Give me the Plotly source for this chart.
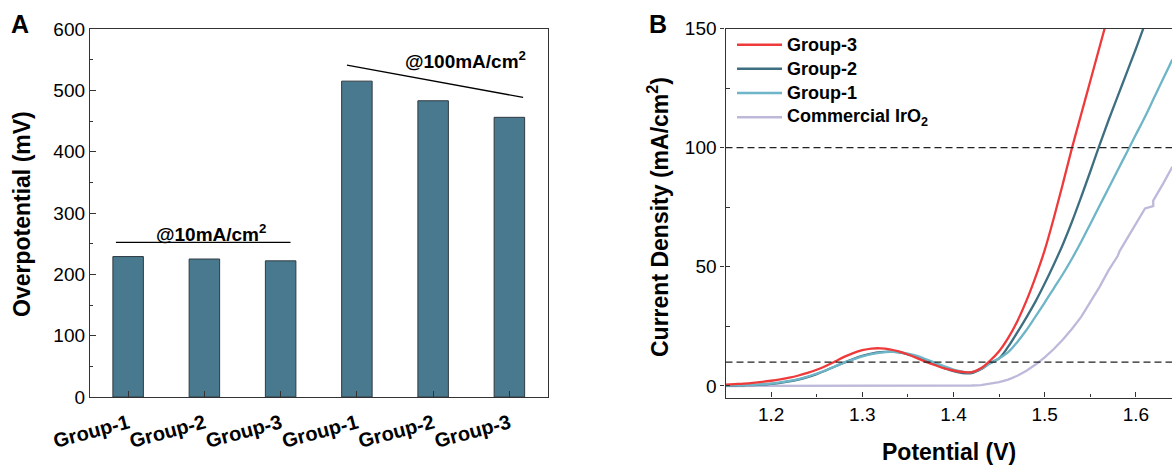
import plotly.graph_objects as go

# ---------------- Panel A data ----------------
bar_labels = ["Group-1", "Group-2", "Group-3", "Group-1", "Group-2", "Group-3"]
bar_pos = [0, 1, 2, 3, 4, 5]
overpotential = [229, 225, 222, 515, 483, 456]

# ---------------- Panel B data ----------------
potential = [1.15, 1.16, 1.17, 1.18, 1.19, 1.20, 1.21, 1.22, 1.23, 1.24,
             1.25, 1.26, 1.27, 1.28, 1.29, 1.30, 1.31, 1.32, 1.33, 1.34,
             1.35, 1.36, 1.37, 1.38, 1.39, 1.40, 1.41, 1.42, 1.43, 1.44,
             1.45, 1.46, 1.47, 1.48, 1.49, 1.50, 1.51, 1.52, 1.53, 1.54,
             1.55, 1.56, 1.57, 1.58, 1.59, 1.60, 1.61, 1.62, 1.63, 1.64]

group3 = [0.6, 0.8, 1.0, 1.3, 1.7, 2.2, 2.8, 3.5, 4.4, 5.5,
          6.8, 8.4, 10.3, 12.2, 13.8, 15.0, 15.7, 15.8, 15.4, 14.5,
          13.2, 11.7, 10.1, 8.7, 7.4, 6.5, 5.9, 5.8, 7.4, 10.6,
          14.6, 20.2, 27.2, 35.8, 45.8, 57.0, 70.5, 85.0, 100.0, 114.0,
          128.0, 142.0, 156.0]

group2 = [0.2, 0.2, 0.3, 0.4, 0.6, 0.9, 1.3, 1.9, 2.7, 3.7,
          5.0, 6.5, 8.2, 9.8, 11.3, 12.6, 13.6, 14.2, 14.4, 14.1,
          13.3, 12.1, 10.6, 9.0, 7.5, 6.2, 5.4, 5.4, 7.0, 9.6,
          11.6, 16.5, 22.5, 28.8, 35.5, 43.0, 51.0, 59.5, 69.0, 79.3,
          90.0, 101.0, 111.5, 121.5, 131.5, 141.5, 152.0]

group1 = [0.3, 0.3, 0.4, 0.5, 0.7, 1.0, 1.5, 2.1, 2.9, 3.9,
          5.2, 6.6, 8.2, 9.8, 11.2, 12.4, 13.4, 14.0, 14.3, 14.2,
          13.6, 12.6, 11.2, 9.7, 8.2, 6.9, 6.0, 5.8, 7.2, 9.4,
          11.5, 14.2, 18.5, 23.5, 29.2, 35.0, 41.0, 47.0, 53.5, 60.5,
          68.0, 75.5, 83.0, 90.5, 98.0, 105.5, 113.0, 121.0, 129.0, 137.0]

iro2_potential = [1.15, 1.20, 1.25, 1.30, 1.35, 1.40, 1.41, 1.42, 1.43, 1.44,
                  1.45, 1.46, 1.47, 1.48, 1.49, 1.50, 1.51, 1.52, 1.53, 1.54,
                  1.55, 1.56, 1.57, 1.58, 1.582, 1.59, 1.60, 1.61, 1.619, 1.619,
                  1.63, 1.64]
iro2 = [0.0, 0.0, 0.0, 0.0, 0.0, 0.05, 0.1, 0.2, 0.4, 0.9,
        1.6, 2.7, 4.3, 6.4, 9.0, 12.0, 15.5, 19.5, 24.0, 29.0,
        35.0, 41.5, 48.5, 54.5, 56.5, 61.5, 68.0, 74.5, 75.5, 77.8,
        85.0, 92.0]

ref_levels = [100, 10]

W, H = 1172, 466
FONT = "Arial, Liberation Sans, sans-serif"
AX = "#333333"


def px(x):
    return x / W


def py(y):
    return 1 - y / H


fig = go.Figure()

# ---- Panel A bars ----
fig.add_trace(go.Bar(
    x=bar_pos, y=overpotential, width=0.4,
    marker=dict(color="#48798e", line=dict(color="#2f3a40", width=1)),
    xaxis="x", yaxis="y", showlegend=False,
))

# ---- Panel B curves ----
series = [
    ("Commercial IrO<sub>2</sub>", iro2_potential, iro2, "#bdb9da", "linear"),
    ("Group-2", potential, group2, "#3e6f81", "spline"),
    ("Group-1", potential, group1, "#6db5c7", "spline"),
    ("Group-3", potential, group3, "#ee3a3a", "spline"),
]
for name, xs, ys, col, shape in series:
    fig.add_trace(go.Scatter(
        x=xs[:len(ys)], y=ys, mode="lines", name=name,
        line=dict(color=col, width=2.3, shape=shape),
        xaxis="x2", yaxis="y2", showlegend=False,
    ))

shapes = []
# dashed reference lines
for lv in ref_levels:
    shapes.append(dict(type="line", xref="x2 domain", yref="y2", x0=0, x1=1,
                       y0=lv, y1=lv, line=dict(color="#222222", width=1.3, dash="7px,4px")))
# bracket lines in panel A
shapes.append(dict(type="line", xref="x", yref="y", x0=-0.16, x1=2.13, y0=252, y1=252,
                   line=dict(color="black", width=1.3)))
shapes.append(dict(type="line", xref="x", yref="y", x0=2.87, x1=5.18, y0=541, y1=488.5,
                   line=dict(color="black", width=1.3)))

annotations = []
# custom legend (order as in reference)
legend_rows = [("Group-3", "#ee3a3a", 44.7), ("Group-2", "#3e6f81", 68.7),
               ("Group-1", "#6db5c7", 93.0), ("Commercial IrO<sub>2</sub>", "#bdb9da", 117.3)]
for name, col, yy in legend_rows:
    shapes.append(dict(type="line", xref="paper", yref="paper", x0=px(737), x1=px(782),
                       y0=py(yy), y1=py(yy), line=dict(color=col, width=2.6)))
    annotations.append(dict(text=name, xref="paper", yref="paper", x=px(785), y=py(yy),
                            xanchor="left", yanchor="middle", showarrow=False,
                            font=dict(family=FONT, size=18, color="black", weight="bold")))

# panel A labels
annotations.append(dict(text="@10mA/cm<sup>2</sup>", xref="x", yref="y", x=1.09, y=268,
                        xanchor="center", yanchor="middle", showarrow=False,
                        font=dict(family=FONT, size=19, color="black", weight="bold")))
annotations.append(dict(text="@100mA/cm<sup>2</sup>", xref="x", yref="y", x=4.42, y=550,
                        xanchor="center", yanchor="middle", showarrow=False,
                        font=dict(family=FONT, size=19, color="black", weight="bold")))
# axis titles
annotations.append(dict(text="Overpotential (mV)", xref="paper", yref="paper",
                        x=px(22), y=py(214), textangle=-90, showarrow=False,
                        xanchor="center", yanchor="middle",
                        font=dict(family=FONT, size=23, color="black", weight="bold")))
annotations.append(dict(text="Current Density (mA/cm<sup>2</sup>)", xref="paper", yref="paper",
                        x=px(658), y=py(217), textangle=-90, showarrow=False,
                        xanchor="center", yanchor="middle",
                        font=dict(family=FONT, size=23, color="black", weight="bold")))
annotations.append(dict(text="Potential (V)", xref="paper", yref="paper",
                        x=px(949), y=py(452), showarrow=False,
                        xanchor="center", yanchor="middle",
                        font=dict(family=FONT, size=23, color="black", weight="bold")))
# panel letters
annotations.append(dict(text="A", xref="paper", yref="paper", x=px(20), y=py(24),
                        showarrow=False, xanchor="center", yanchor="middle",
                        font=dict(family=FONT, size=25, color="black", weight="bold")))
annotations.append(dict(text="B", xref="paper", yref="paper", x=px(658), y=py(24),
                        showarrow=False, xanchor="center", yanchor="middle",
                        font=dict(family=FONT, size=25, color="black", weight="bold")))

tickfont = dict(family=FONT, size=19, color="black")

fig.update_layout(
    width=W, height=H,
    margin=dict(l=0, r=0, t=0, b=0),
    paper_bgcolor="white", plot_bgcolor="white",
    showlegend=False,
    xaxis=dict(domain=[px(90), px(547.5)], range=[-0.5, 5.5],
               tickvals=bar_pos, ticktext=bar_labels, tickangle=-15,
               tickfont=dict(family=FONT, size=20, color="black", weight="bold"),
               ticks="inside", ticklen=6, tickcolor=AX, tickwidth=1.3,
               ticklabelstandoff=6,
               showline=True, linecolor=AX, linewidth=1.3, mirror=True,
               showgrid=False, zeroline=False, anchor="y", automargin=False),
    yaxis=dict(domain=[py(397), py(29)], range=[0, 600], dtick=100, tick0=0,
               tickfont=tickfont, ticks="inside", ticklen=6, tickcolor=AX, tickwidth=1.3,
               minor=dict(ticks="inside", dtick=50, ticklen=3, tickcolor=AX, tickwidth=1.3),
               showline=True, linecolor=AX, linewidth=1.3, mirror=True,
               showgrid=False, zeroline=False, anchor="x", automargin=False),
    xaxis2=dict(domain=[px(725.5), 1.0], range=[1.15, 1.15 + (1172 - 725.5) / 912.0],
                dtick=0.1, tick0=1.2, tickformat=".1f",
                tickfont=tickfont, ticks="inside", ticklen=5, tickcolor=AX, tickwidth=1.3,
                minor=dict(ticks="inside", dtick=0.05, ticklen=3, tickcolor=AX, tickwidth=1.3),
                showline=True, linecolor=AX, linewidth=1.3, mirror=True,
                showgrid=False, zeroline=False, anchor="y2", automargin=False),
    yaxis2=dict(domain=[py(397.5), py(28.5)], range=[-4.83, 150], dtick=50, tick0=0,
                tickfont=tickfont, ticks="outside", ticklen=4, tickcolor=AX, tickwidth=1.3,
                minor=dict(ticks="inside", dtick=25, ticklen=4, tickcolor=AX, tickwidth=1.3),
                showline=True, linecolor=AX, linewidth=1.3, mirror=False,
                showgrid=False, zeroline=False, anchor="x2", automargin=False),
    shapes=shapes,
    annotations=annotations,
)

fig.write_html("out.html",
               config={"displayModeBar": False},
               post_script="document.body.style.margin='0px';"
                           "document.body.style.overflow='hidden';")
